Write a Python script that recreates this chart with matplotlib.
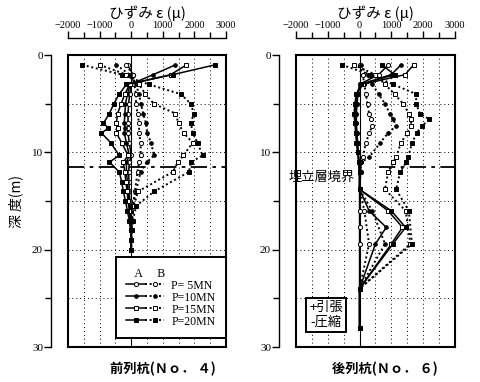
import numpy as np
import matplotlib
matplotlib.use('Agg')
import matplotlib.pyplot as plt
from matplotlib.legend_handler import HandlerTuple

plt.rcParams['font.family'] = ['Liberation Serif', 'Noto Sans CJK JP']
JP = ['Noto Sans CJK JP', 'DejaVu Sans']

loads = ['P= 5MN', 'P=10MN', 'P=15MN', 'P=20MN']

# ---- front pile (No.4) ----
depth_LA = [1, 2, 3, 4, 5, 6, 7, 7.5, 8, 9, 10.3, 11, 12, 13, 14, 15, 16, 17, 18, 19, 20]
L_A = [
    [-100, 50, 0, -50, -80, -100, -100, -90, -100, -60, 0, -60, -80, -70, -60, -40, -20, -10, 0, 0, 0],
    [1400, 700, -30, -120, -180, -200, -220, -200, -220, -150, -60, -150, -150, -120, -100, -70, -40, -20, 0, 0, 0],
    [1750, 1250, -50, -200, -320, -430, -470, -430, -470, -300, -100, -250, -200, -170, -130, -100, -60, -30, 0, 0, 0],
    [2650, 1320, -150, -380, -550, -690, -880, -720, -940, -650, -380, -690, -380, -300, -250, -180, -120, -60, -20, 0, 0],
]
depth_LB = [1, 2, 3, 4, 5, 6, 7, 8, 9, 10.3, 11, 12, 14, 15.5, 17, 18, 20]
L_B = [
    [-150, 50, 100, 150, 150, 200, 250, 250, 300, 300, 250, 200, 120, 50, 20, 0, 0],
    [-470, -50, 150, 250, 310, 380, 470, 500, 630, 720, 500, 300, 150, 60, 20, 0, 0],
    [-1000, -150, 250, 450, 720, 1400, 1500, 1660, 1950, 1650, 1480, 1320, 220, 80, 30, 10, 0],
    [-1550, -300, 550, 1570, 1890, 1980, 1890, 1950, 2100, 2260, 1890, 1830, 730, 160, 50, 20, 0],
]

# ---- rear pile (No.6) ----
depth_RA = [1, 2, 3, 4, 5, 6, 7, 8, 9, 10, 11, 12, 13.8, 16, 17.7, 19.4, 24, 28]
R_A = [
    [900, 600, 0, -50, -80, -100, -100, -80, -60, -40, -20, 0, 0, 0, 0, 0, 0, 0],
    [1300, 1000, 30, -80, -120, -130, -120, -100, -80, -50, -20, 0, 0, 300, 840, 500, 0, 0],
    [1700, 1430, 100, -80, -120, -150, -130, -100, -80, -50, -20, 0, 0, 900, 1350, 1000, 0, 0],
    [700, 1100, 50, -100, -150, -170, -150, -120, -100, -60, -30, 0, 0, 1000, 1450, 1050, 0, 0],
]
depth_RB = [1, 2, 3, 4, 5, 6, 6.6, 7.3, 8, 9, 10.5, 11, 12, 13.8, 16, 19.4, 24]
R_B = [
    [0, 100, 150, 200, 250, 300, 350, 400, 300, 200, 100, 50, 30, 0, 150, 300, 0],
    [30, 250, 400, 600, 800, 950, 1060, 1150, 900, 650, 300, 60, 30, 0, 400, 800, 0],
    [-190, 500, 800, 1100, 1370, 1550, 1620, 1620, 1500, 1300, 1150, 1060, 900, 800, 1450, 1600, 0],
    [-560, 340, 1060, 1780, 1780, 1900, 2200, 1950, 1800, 1650, 1530, 1470, 1280, 1150, 1550, 1650, 0],
]

boundary_depth = 11.5

markers = ['o', 'o', 's', 's']
faces = ['white', 'black', 'white', 'black']
msizes = [3.0, 2.6, 3.3, 3.3]
DOT = (0, (1, 1.4))

fig = plt.figure(figsize=(4.8, 3.82), dpi=100)
axL = fig.add_axes([0.1417, 0.0916, 0.329, 0.764])
axR = fig.add_axes([0.6167, 0.0916, 0.331, 0.764])


def setup(ax):
    ax.set_xlim(-2000, 3000)
    ax.set_ylim(30, 0)
    ax.set_xticks(np.arange(-2000, 3001, 500))
    ax.set_yticks(np.arange(0, 31, 5))
    ax.tick_params(which='both', length=0, labelbottom=False, labelleft=False)
    ax.grid(True, color='k', lw=0.7, ls=(0, (1, 3)))
    for s in ax.spines.values():
        s.set_linewidth(1.5)
    ax.axvline(0, color='k', lw=0.8, zorder=1)

    sx = ax.secondary_xaxis('top')
    sx.spines['top'].set_position(('outward', 12))
    sx.spines['top'].set_linewidth(1.0)
    sx.set_xticks(np.arange(-2000, 3001, 1000))
    sx.set_xticks(np.arange(-1500, 3000, 1000), minor=True)
    sx.tick_params(which='major', length=5, width=1, labelsize=7.5, pad=1)
    sx.tick_params(which='minor', length=4, width=1)
    sx.set_xlabel('ひずみ ε (μ)', fontfamily=JP, fontsize=10.5, labelpad=2)

    sy = ax.secondary_yaxis('left')
    sy.spines['left'].set_position(('outward', 12))
    sy.spines['left'].set_linewidth(1.0)
    sy.set_yticks([0, 10, 20, 30])
    sy.set_yticks([5, 15, 25], minor=True)
    sy.tick_params(which='major', length=5, width=1, labelsize=8, pad=1)
    sy.tick_params(which='minor', length=4, width=1)
    return sy


def draw(ax, dA, A, dB, B):
    hs = []
    for i in range(4):
        ha, = ax.plot(A[i], dA, '-', color='k', lw=1.1, marker=markers[i],
                      mfc=faces[i], mec='k', ms=msizes[i], mew=0.7, zorder=3)
        hb, = ax.plot(B[i], dB, ls=DOT, color='k', lw=1.4, marker=markers[i],
                      mfc=faces[i], mec='k', ms=msizes[i], mew=0.7, zorder=3)
        hs.append((ha, hb))
    return hs


syL = setup(axL)
setup(axR)
syL.set_ylabel('深 度(m)', fontfamily=JP, fontsize=10, labelpad=6)

hs = draw(axL, depth_LA, L_A, depth_LB, L_B)
draw(axR, depth_RA, R_A, depth_RB, R_B)

axL.axhline(boundary_depth, color='k', lw=1.3, ls=(0, (9, 3, 2, 3)), zorder=2)
axR.axhline(boundary_depth, xmin=0.52, color='k', lw=1.3, ls=(0, (9, 3, 2, 3)), zorder=2)

leg = axL.legend(hs, loads, handler_map={tuple: HandlerTuple(ndivide=None, pad=0)},
                 loc='lower right', bbox_to_anchor=(1.0, 0.03), borderaxespad=0,
                 fontsize=8.5, title='   A     B', title_fontsize=8.5, alignment='left',
                 handlelength=3.2, handletextpad=0.6, labelspacing=0.0,
                 borderpad=0.9, fancybox=False, framealpha=1, edgecolor='k')
leg.get_frame().set_linewidth(1.4)
leg.set_zorder(5)

axR.text(-0.05, 0.582, '埋立層境界', transform=axR.transAxes, fontfamily=JP,
         fontsize=9.5, ha='left', va='center', zorder=6)
axR.text(0.19, 0.11, '+引張\n-圧縮', transform=axR.transAxes, fontfamily=JP,
         fontsize=9.5, ha='center', va='center', linespacing=1.15, zorder=6,
         bbox=dict(boxstyle='square,pad=0.25', fc='white', ec='k', lw=1.4))

axL.text(0.6, -0.075, '前列杭(Ｎｏ． ４)', transform=axL.transAxes, fontfamily=JP,
         fontsize=9.5, fontweight='bold', ha='center', va='center')
axR.text(0.56, -0.075, '後列杭(Ｎｏ． ６)', transform=axR.transAxes, fontfamily=JP,
         fontsize=9.5, fontweight='bold', ha='center', va='center')

fig.savefig('out.png', dpi=100)
